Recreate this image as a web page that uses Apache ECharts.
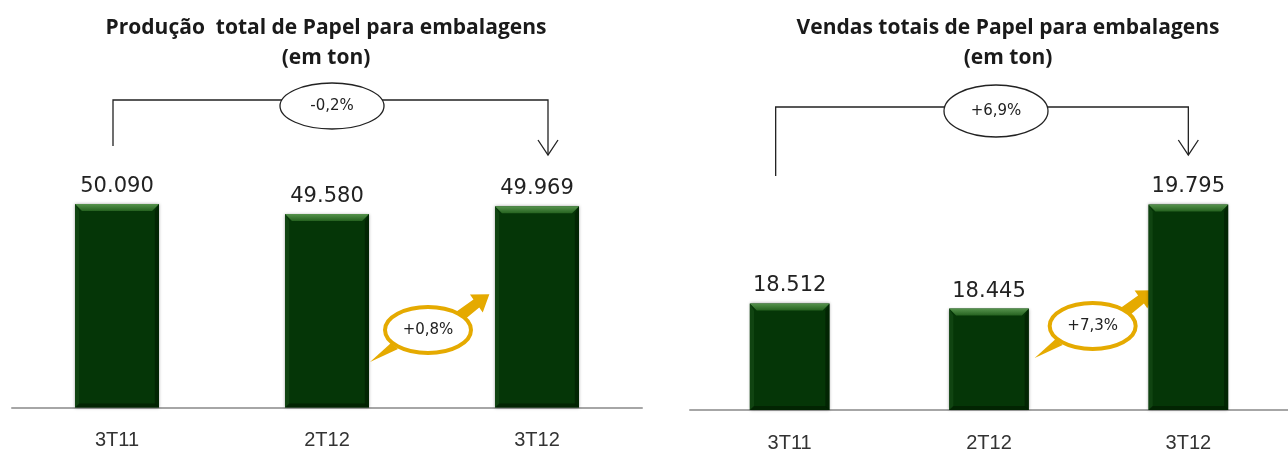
<!DOCTYPE html>
<html>
<head>
<meta charset="utf-8">
<script src="https://cdn.jsdelivr.net/npm/echarts@6/dist/echarts.min.js"></script>
<style>
html,body{margin:0;padding:0;background:#fff;}
#c{width:1288px;height:455px;}
</style>
</head>
<body>
<div id="c"></div>
<script>
// ---- data ----
const categories = ['3T11', '2T12', '3T12'];
const producao = [50090, 49580, 49969];
const vendas = [18512, 18445, 19795];
const titles = ['Produção  total de Papel para embalagens\n(em ton)', 'Vendas totais de Papel para embalagens\n(em ton)'];
const yearChanges = ['-0,2%', '+6,9%'];
const quarterChanges = ['+0,8%', '+7,3%'];

const fmt = v => v.toLocaleString('de-DE');
const chart = echarts.init(document.getElementById('c'), null, {renderer: 'canvas'});

const barColor = '#053607';
function bevelSeries(idx) {
  return {
    type: 'custom', xAxisIndex: idx, yAxisIndex: idx, z: 5, silent: true,
    data: (idx === 0 ? producao : vendas).map((v, i) => [i, v]),
    renderItem: function (params, api) {
      const top = api.coord([api.value(0), api.value(1)]);
      const size = api.size([1, 0]);
      const w = size[0] * 0.4;
      const x0 = top[0] - w / 2, x1 = top[0] + w / 2, y0 = top[1];
      const yb = api.coord([api.value(0), idx === 0 ? 39700 : 17130])[1];
      const b = 7;
      return {
        type: 'group',
        children: [
          {type: 'polygon', shape: {points: [[x0, y0], [x1, y0], [x1 - b, y0 + b], [x0 + b, y0 + b]]},
            style: {fill: new echarts.graphic.LinearGradient(0, 0, 0, 1, [{offset: 0, color: '#56934d'}, {offset: 1, color: '#25621f'}])}},
          {type: 'polygon', shape: {points: [[x0, y0], [x0 + b * 0.6, y0 + b], [x0 + b * 0.6, yb - 3], [x0, yb]]},
            style: {fill: 'rgba(25,80,25,0.55)'}},
          {type: 'polygon', shape: {points: [[x1, y0], [x1 - b * 0.6, y0 + b], [x1 - b * 0.6, yb - 3], [x1, yb]]},
            style: {fill: 'rgba(0,20,0,0.5)'}},
          {type: 'polygon', shape: {points: [[x0, yb], [x1, yb], [x1 - 4, yb - 4], [x0 + 4, yb - 4]]},
            style: {fill: 'rgba(0,25,0,0.6)'}}
        ]
      };
    }
  };
}

const xAxisCommon = {
  type: 'category', data: categories,
  axisLine: {lineStyle: {color: '#a6a6a6', width: 2}},
  axisTick: {show: false},
  axisLabel: {fontSize: 20, color: '#333', margin: 23, fontFamily: 'Liberation Sans Narrow, Liberation Sans, sans-serif'}
};
const labelCommon = {
  show: true, position: 'top', distance: 7, fontSize: 21, color: '#222',
  fontFamily: 'DejaVu Sans', formatter: p => fmt(p.value)
};

chart.setOption({
  animation: false,
  grid: [
    {left: 12, top: 100, width: 630, height: 307.5},
    {left: 690, top: 100, width: 609, height: 310}
  ],
  xAxis: [Object.assign({gridIndex: 0}, xAxisCommon), Object.assign({gridIndex: 1}, xAxisCommon)],
  yAxis: [
    {gridIndex: 0, type: 'value', min: 39700, max: 55400, show: false, splitLine: {show: false}},
    {gridIndex: 1, type: 'value', min: 17130, max: 21150, show: false, splitLine: {show: false}}
  ],
  series: [
    {type: 'bar', xAxisIndex: 0, yAxisIndex: 0, data: producao, barWidth: '40%',
      itemStyle: {color: barColor, shadowBlur: 3, shadowColor: 'rgba(0,0,0,0.35)'}, label: labelCommon},
    {type: 'bar', xAxisIndex: 1, yAxisIndex: 1, data: vendas, barWidth: '40%',
      itemStyle: {color: barColor, shadowBlur: 3, shadowColor: 'rgba(0,0,0,0.35)'}, label: labelCommon},
    bevelSeries(0), bevelSeries(1)
  ]
});

// ---- annotations (positioned from the axes) ----
function px(idx, cat, val) {
  return chart.convertToPixel({xAxisIndex: idx, yAxisIndex: idx}, [cat, val]);
}
const gold = '#E5AA00';
const panels = [
  {idx: 0, titleX: 326, lineY: 100, leftOff: -4, leftBottom: 146, rightOff: 11, tipY: 155, ellOff: 5, ellY: 106, ry: 23,
    goldY: 330, goldOff: -4},
  {idx: 1, titleX: 1008, lineY: 107, leftOff: -14, leftBottom: 176, rightOff: 0, tipY: 155, ellOff: 7, ellY: 111, ry: 26,
    goldY: 326, goldOff: 4}
];
const graphics = [];
panels.forEach((p, k) => {
  const c0 = px(p.idx, 0, 0)[0], c1 = px(p.idx, 1, 0)[0], c2 = px(p.idx, 2, 0)[0];
  graphics.push({type: 'text', style: {text: titles[k], x: p.titleX, y: 13, textAlign: 'center', textVerticalAlign: 'top',
    font: 'bold 21px "Open Sans", sans-serif', lineHeight: 30, fill: '#1a1a1a'}});
  const lx = c0 + p.leftOff, rx = c2 + p.rightOff;
  graphics.push({type: 'polyline', shape: {points: [[lx, p.leftBottom], [lx, p.lineY], [rx, p.lineY], [rx, p.tipY]]},
    style: {stroke: '#222', lineWidth: 1.3, fill: null}});
  graphics.push({type: 'polyline', shape: {points: [[rx - 10, p.tipY - 15], [rx, p.tipY], [rx + 10, p.tipY - 15]]},
    style: {stroke: '#222', lineWidth: 1.3, fill: null}});
  const ex = (c0 + c2) / 2 + p.ellOff;
  graphics.push({type: 'ellipse', shape: {cx: ex, cy: p.ellY, rx: 52, ry: p.ry}, style: {fill: '#fff', stroke: '#222', lineWidth: 1.3}});
  graphics.push({type: 'text', style: {text: yearChanges[k], x: ex, y: p.ellY, textAlign: 'center', textVerticalAlign: 'middle',
    font: '15px "DejaVu Sans"', fill: '#222'}});
  // gold bubble
  const gx = (c1 + c2) / 2 + p.goldOff, gy = p.goldY;
  graphics.push({type: 'polygon', shape: {points: [[gx - 58, gy + 32], [gx - 37, gy + 13], [gx - 30, gy + 19]]}, style: {fill: gold}});
  graphics.push({type: 'group', x: gx + 28, y: gy - 12, rotation: 0.62, children: [
    {type: 'polygon', shape: {points: [[-4, -5], [25, -5], [25, -11], [41, 0], [25, 11], [25, 5], [-4, 7]]}, style: {fill: gold}}
  ]});
  graphics.push({type: 'ellipse', shape: {cx: gx, cy: gy, rx: 43, ry: 23}, style: {fill: '#fff', stroke: gold, lineWidth: 4}});
  graphics.push({type: 'text', style: {text: quarterChanges[k], x: gx, y: gy, textAlign: 'center', textVerticalAlign: 'middle',
    font: '15px "DejaVu Sans"', fill: '#222'}});
});
chart.setOption({graphic: graphics});
</script>
</body>
</html>
